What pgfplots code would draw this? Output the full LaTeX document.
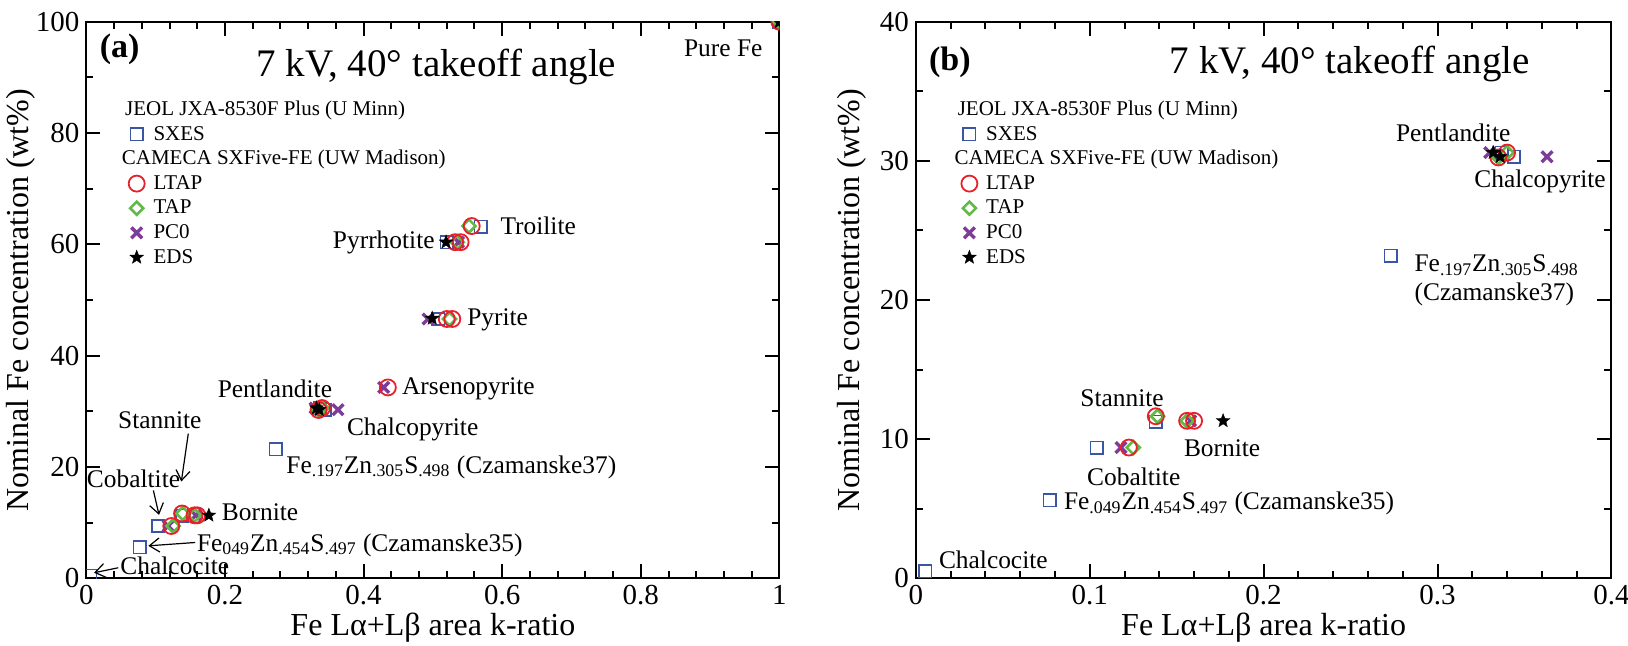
\documentclass[border=0pt]{standalone}
\usepackage{fontspec}
\setmainfont{Liberation Serif}
\usepackage{pgfplots}
\usepackage{pgfplotstable}
\pgfplotsset{compat=1.18}
\usetikzlibrary{arrows.meta}

\definecolor{cblue}{HTML}{3A55A4}
\definecolor{cred}{HTML}{E8202A}
\definecolor{cgreen}{HTML}{62B946}
\definecolor{cpurple}{HTML}{7D3C98}

\pgfdeclareplotmark{fstar}{%
  \pgfpathmoveto{\pgfqpointpolar{90}{\pgfplotmarksize}}%
  \pgfpathlineto{\pgfqpointpolar{126}{0.42\pgfplotmarksize}}%
  \pgfpathlineto{\pgfqpointpolar{162}{\pgfplotmarksize}}%
  \pgfpathlineto{\pgfqpointpolar{198}{0.42\pgfplotmarksize}}%
  \pgfpathlineto{\pgfqpointpolar{234}{\pgfplotmarksize}}%
  \pgfpathlineto{\pgfqpointpolar{270}{0.42\pgfplotmarksize}}%
  \pgfpathlineto{\pgfqpointpolar{306}{\pgfplotmarksize}}%
  \pgfpathlineto{\pgfqpointpolar{342}{0.42\pgfplotmarksize}}%
  \pgfpathlineto{\pgfqpointpolar{18}{\pgfplotmarksize}}%
  \pgfpathlineto{\pgfqpointpolar{54}{0.42\pgfplotmarksize}}%
  \pgfpathclose
  \pgfusepathqfillstroke}

\pgfplotstableread{
k c
1.000 100.0
0.569 63.2
0.520 60.4
0.508 46.6
0.337 30.6
0.344 30.3
0.273 23.2
0.138 11.25
0.104 9.4
0.077 5.6
0.0055 0.5
}\sxes

\pgfplotstableread{
k c
1.000 100.0
0.556 63.3
0.532 60.4
0.540 60.4
0.520 46.6
0.528 46.6
0.435 34.3
0.340 30.6
0.335 30.25
0.138 11.65
0.156 11.32
0.160 11.32
0.1225 9.4
}\ltap

\pgfplotstableread{
k c
1.000 100.0
0.552 63.3
0.535 60.4
0.524 46.6
0.340 30.6
0.335 30.25
0.139 11.65
0.156 11.32
0.125 9.4
}\tap

\pgfplotstableread{
k c
1.000 100.0
0.537 60.4
0.493 46.6
0.429 34.3
0.330 30.6
0.363 30.3
0.158 11.32
0.118 9.4
}\pczero

\pgfplotstableread{
k c
1.000 100.0
0.519 60.4
0.499 46.7
0.332 30.6
0.336 30.3
0.1767 11.32
}\eds

\tikzset{
  lab/.style={font=\fontsize{12.7}{15}\selectfont, inner sep=0pt},
  arr/.style={-{Straight Barb[length=5pt,width=7pt]}, line width=0.6pt},
}

\pgfplotsset{
  legimg/.style={legend image code/.code={\draw[mark repeat=2,mark phase=2,##1] plot coordinates {(0pt,0pt) (4pt,0pt) (8pt,0pt)};}},
  sxesst/.style={only marks, mark=square, mark size=3.1pt, color=cblue, line width=0.8pt, mark options={solid, fill=none}, legimg},
  ltapst/.style={only marks, mark=o, mark size=4pt, color=cred, line width=0.9pt, mark options={solid, fill=none}, legimg},
  tapst/.style={only marks, mark=square, mark size=2.3pt, color=cgreen, line width=1.3pt, mark options={solid, fill=none, rotate=45}, legimg},
  pcst/.style={only marks, mark=x, mark size=3.8pt, color=cpurple, line width=1.7pt, mark options={solid}, legimg},
  edsst/.style={only marks, mark=fstar, mark size=3.6pt, color=black, line width=0.2pt, mark options={solid, fill=black}, legimg},
  common/.style={
    scale only axis,
    axis line style={line width=1pt},
    every tick/.style={black, line width=1pt},
    major tick length=7pt, minor tick length=3.5pt,
    tick align=inside,
    tick label style={font=\fontsize{14.5}{16}\selectfont},
    /pgf/number format/assume math mode=true,
    label style={font=\fontsize{16}{18}\selectfont},
    xlabel={Fe Lα+Lβ area k-ratio},
    ylabel={Nominal Fe concentration (wt\%)},
    xlabel style={at={(axis description cs:0.5,-0.088)}, anchor=center},
    legend cell align=left,
    legend style={draw=none, fill=none, inner sep=0pt, outer sep=0pt,
      font=\fontsize{10.5}{12}\selectfont, row sep=0pt,
      nodes={inner sep=0.8pt, text height=8.2pt, text depth=2.5pt},
      /tikz/every odd column/.append style={column sep=3.6pt}},
  },
}

\begin{document}
\begin{tikzpicture}
\useasboundingbox (0,0) rectangle (813.8pt,322.8pt);
% ---------------- panel (a)
\begin{axis}[common,
  at={(43.2pt,33.7pt)}, anchor=south west,
  width=346.4pt, height=278.2pt,
  xmin=0, xmax=1, ymin=0, ymax=100,
  xtick={0,0.2,0.4,0.6,0.8,1}, minor x tick num=4,
  ytick={0,20,40,60,80,100}, minor y tick num=1,
  ylabel style={at={(axis description cs:-0.0947,0.5)}, anchor=center},
  clip marker paths=true,
  legend style={at={(rel axis cs:0.061,0.864)}, anchor=north west},
]
\addlegendimage{empty legend}\addlegendentry{\hspace*{-14.2pt}JEOL JXA-8530F Plus (U Minn)}
\addlegendimage{sxesst}\addlegendentry{SXES}
\addlegendimage{empty legend}\addlegendentry{\hspace*{-15.8pt}CAMECA SXFive-FE (UW Madison)}
\addlegendimage{ltapst}\addlegendentry{LTAP}
\addlegendimage{tapst}\addlegendentry{TAP}
\addlegendimage{pcst}\addlegendentry{PC0}
\addlegendimage{edsst}\addlegendentry{EDS}

\addplot[sxesst, forget plot] table[x=k, y=c] {\sxes};
\addplot[pcst, forget plot] table[x=k, y=c] {\pczero};
\addplot[tapst, forget plot] table[x=k, y=c] {\tap};
\addplot[ltapst, forget plot] table[x=k, y=c] {\ltap};
\addplot[edsst, forget plot] table[x=k, y=c] {\eds};

\node[font=\bfseries\fontsize{17}{20}\selectfont, inner sep=0pt] at (rel axis cs:0.048,0.951) {(a)};
\node[font=\fontsize{19.5}{22}\selectfont, inner sep=0pt] at (rel axis cs:0.505,0.918) {7 kV, 40° takeoff angle};
\node[lab] at (axis cs:0.919,95.3) {Pure Fe};
\node[lab, anchor=west] at (axis cs:0.597,63.3) {Troilite};
\node[lab, anchor=east] at (axis cs:0.503,60.4) {Pyrrhotite};
\node[lab, anchor=west] at (axis cs:0.549,46.4) {Pyrite};
\node[lab, anchor=west] at (axis cs:0.455,34.0) {Arsenopyrite};
\node[lab] at (axis cs:0.272,34.0) {Pentlandite};
\node[lab, anchor=west] at (axis cs:0.3755,26.8) {Chalcopyrite};
\node[lab, anchor=west] at (axis cs:0.288,20.0) {Fe\textsubscript{.197}Zn\textsubscript{.305}S\textsubscript{.498} (Czamanske37)};
\node[lab] at (axis cs:0.106,28.4) {Stannite};
\node[lab] at (axis cs:0.068,17.9) {Cobaltite};
\node[lab, anchor=west] at (axis cs:0.195,11.8) {Bornite};
\node[lab, anchor=west] at (axis cs:0.159,6.0) {Fe\textsubscript{049}Zn\textsubscript{.454}S\textsubscript{.497} (Czamanske35)};
\node[lab, anchor=west] at (axis cs:0.0486,2.3) {Chalcocite};
\draw[arr] (axis cs:0.147,26.0) -- (axis cs:0.137,17.4);
\draw[arr] (axis cs:0.0966,15.8) -- (axis cs:0.1048,11.4);
\draw[arr] (axis cs:0.157,6.44) -- (axis cs:0.0894,5.84);
\draw[arr] (axis cs:0.046,1.9) -- (axis cs:0.011,1.0);
\end{axis}
% ---------------- panel (b)
\begin{axis}[common,
  at={(457.8pt,33.7pt)}, anchor=south west,
  width=347.7pt, height=278.2pt,
  xmin=0, xmax=0.4, ymin=0, ymax=40,
  xtick={0,0.1,0.2,0.3,0.4}, minor x tick num=4,
  ytick={0,10,20,30,40}, minor y tick num=1,
  ylabel style={at={(axis description cs:-0.0925,0.5)}, anchor=center},
  restrict x to domain=0:0.41, restrict y to domain=0:41,
  legend style={at={(rel axis cs:0.0655,0.864)}, anchor=north west},
]
\addlegendimage{empty legend}\addlegendentry{\hspace*{-14.2pt}JEOL JXA-8530F Plus (U Minn)}
\addlegendimage{sxesst}\addlegendentry{SXES}
\addlegendimage{empty legend}\addlegendentry{\hspace*{-15.8pt}CAMECA SXFive-FE (UW Madison)}
\addlegendimage{ltapst}\addlegendentry{LTAP}
\addlegendimage{tapst}\addlegendentry{TAP}
\addlegendimage{pcst}\addlegendentry{PC0}
\addlegendimage{edsst}\addlegendentry{EDS}

\addplot[sxesst, forget plot] table[x=k, y=c] {\sxes};
\addplot[pcst, forget plot] table[x=k, y=c] {\pczero};
\addplot[tapst, forget plot] table[x=k, y=c] {\tap};
\addplot[ltapst, forget plot] table[x=k, y=c] {\ltap};
\addplot[edsst, forget plot] table[x=k, y=c] {\eds};

\node[font=\bfseries\fontsize{17}{20}\selectfont, inner sep=0pt] at (rel axis cs:0.049,0.927) {(b)};
\node[font=\fontsize{19.5}{22}\selectfont, inner sep=0pt] at (rel axis cs:0.624,0.9235) {7 kV, 40° takeoff angle};
\node[lab] at (axis cs:0.309,32.0) {Pentlandite};
\node[lab, anchor=west] at (axis cs:0.321,28.5) {Chalcopyrite};
\node[lab, anchor=west] at (axis cs:0.2866,22.5) {Fe\textsubscript{.197}Zn\textsubscript{.305}S\textsubscript{.498}};
\node[lab, anchor=west] at (axis cs:0.2866,20.4) {(Czamanske37)};
\node[lab] at (axis cs:0.1186,12.93) {Stannite};
\node[lab, anchor=west] at (axis cs:0.154,9.34) {Bornite};
\node[lab] at (axis cs:0.1253,7.3) {Cobaltite};
\node[lab, anchor=west] at (axis cs:0.085,5.38) {Fe\textsubscript{.049}Zn\textsubscript{.454}S\textsubscript{.497} (Czamanske35)};
\node[lab, anchor=west] at (axis cs:0.0131,1.3) {Chalcocite};
\end{axis}
\end{tikzpicture}
\end{document}
